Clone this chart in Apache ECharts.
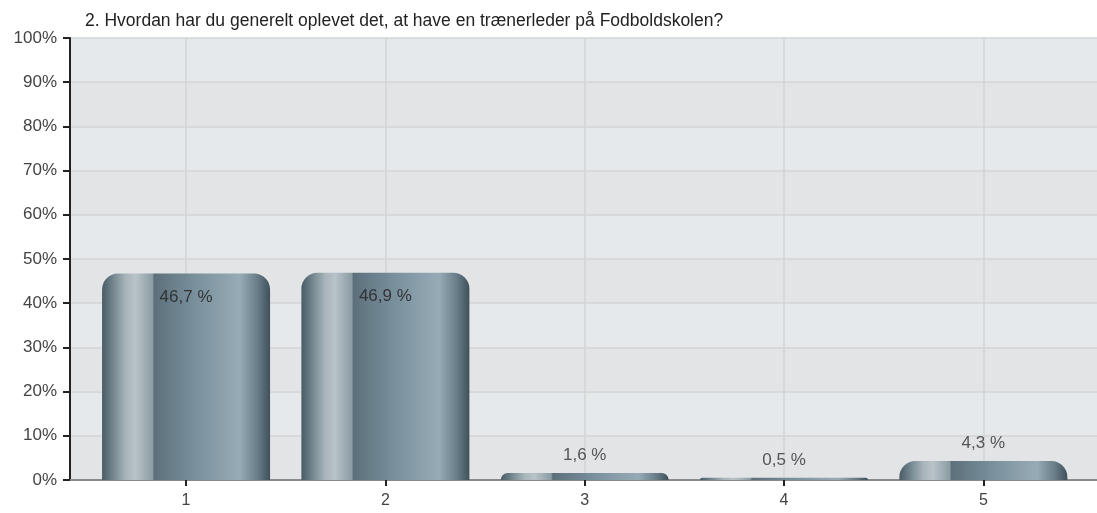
<!DOCTYPE html>
<html>
<head>
<meta charset="utf-8">
<script src="https://cdn.jsdelivr.net/npm/echarts@6/dist/echarts.min.js"></script>
<style>
  html, body { margin: 0; padding: 0; background: #fff; }
  #chart { width: 1097px; height: 513px; }
</style>
</head>
<body>
<div id="chart"></div>
<script>
// data
const titleText = '2. Hvordan har du generelt oplevet det, at have en trænerleder på Fodboldskolen?';
const categories = ['1', '2', '3', '4', '5'];
const percentValues = [46.7, 46.9, 1.6, 0.5, 4.3];
const yMin = 0, yMax = 100, yStep = 10;

const FONT = 'Liberation Sans, Arial';
const chart = echarts.init(document.getElementById('chart'));

// cylinder look for the bars
const barFill = new echarts.graphic.LinearGradient(0, 0, 1, 0, [
  { offset: 0, color: '#4a5c66' },
  { offset: 0.04, color: '#61767f' },
  { offset: 0.14, color: '#a7b4ba' },
  { offset: 0.2, color: '#b9c3c8' },
  { offset: 0.3, color: '#8c9ca4' },
  { offset: 0.31, color: '#5c707b' },
  { offset: 0.55, color: '#78909c' },
  { offset: 0.82, color: '#97abb6' },
  { offset: 0.93, color: '#667b86' },
  { offset: 1, color: '#3f505a' }
]);

const fmt = v => String(v).replace('.', ',') + ' %';

const seriesData = percentValues.map(v => ({
  value: v,
  label: v >= 10
    ? { position: 'insideTop', distance: 15, color: '#333' }
    : { position: 'top', distance: 9, color: '#555' }
}));

const option = {
  animation: false,
  title: {
    text: titleText,
    left: 80, top: 7,
    textStyle: { fontFamily: FONT, fontSize: 17.5, fontWeight: 'normal', color: '#222' }
  },
  grid: [
    { left: 70, right: 0, top: 38, bottom: 33 },
    { left: 86.4, right: 14, top: 38, bottom: 33 }
  ],
  xAxis: [
    { // bottom line of the frame
      type: 'value', gridIndex: 0, min: 0, max: 1, position: 'bottom',
      axisLine: { show: true, onZero: false, lineStyle: { color: '#222', width: 2 } },
      axisTick: { show: false }, axisLabel: { show: false }, splitLine: { show: false }
    },
    { // top border
      type: 'value', gridIndex: 0, min: 0, max: 1, position: 'top',
      axisLine: { show: true, lineStyle: { color: '#8a8a8a', width: 2 } },
      axisTick: { show: false }, axisLabel: { show: false }, splitLine: { show: false }
    },
    {
      type: 'category', gridIndex: 1, data: categories,
      axisLine: { show: false },
      axisTick: { show: true, alignWithLabel: true, length: 6, lineStyle: { color: '#222', width: 2 } },
      axisLabel: { color: '#444', fontSize: 16, fontFamily: FONT, margin: 13 },
      splitLine: { show: false }
    }
  ],
  yAxis: [
    {
      type: 'value', gridIndex: 0, min: yMin, max: yMax, interval: yStep,
      axisLine: { show: true, lineStyle: { color: '#222', width: 2 } },
      axisTick: { show: true, length: 7, lineStyle: { color: '#222', width: 2 } },
      axisLabel: { formatter: '{value}%', color: '#444', fontSize: 17, fontFamily: FONT, margin: 13 },
      splitLine: { show: true, lineStyle: { color: '#d2d4d6', width: 1.5 } },
      splitArea: { show: true, areaStyle: { color: ['#e3e4e6', '#e6e9ec'] } }
    },
    {
      type: 'value', gridIndex: 1, min: yMin, max: yMax, interval: yStep, show: false
    }
  ],
  series: [{
    type: 'bar',
    xAxisIndex: 2,
    yAxisIndex: 1,
    data: seriesData,
    barWidth: 168,
    itemStyle: { color: barFill, borderRadius: [16, 16, 0, 0] },
    label: {
      show: true,
      fontSize: 17,
      fontFamily: FONT,
      formatter: p => fmt(p.value)
    },
    markLine: {
      silent: true,
      symbol: 'none',
      z: 1,
      label: { show: false },
      lineStyle: { color: '#d2d4d6', width: 1.5, type: 'solid' },
      data: categories.map(c => ({ xAxis: c }))
    }
  }]
};

chart.setOption(option);
</script>
</body>
</html>
